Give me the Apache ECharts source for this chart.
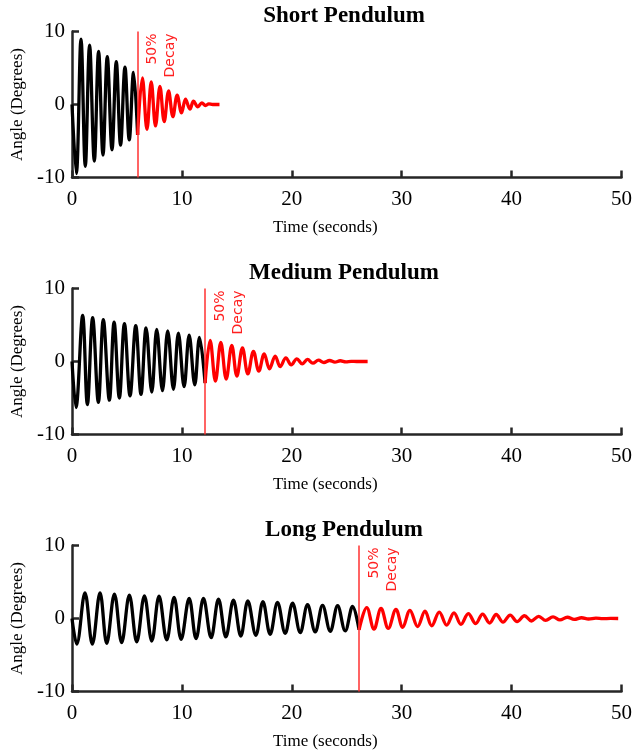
<!DOCTYPE html>
<html><head><meta charset="utf-8">
<script src="https://cdn.jsdelivr.net/npm/echarts@6/dist/echarts.min.js"></script>
<style>html,body{margin:0;padding:0;background:#fff}#c{width:641px;height:755px}</style>
</head><body><div id="c"></div>
<script>
// ---- data (peaks / troughs of each swing) ----
const panelTitles = ['Short Pendulum', 'Medium Pendulum', 'Long Pendulum'];
const xAxisTitle = 'Time (seconds)';
const yAxisTitle = 'Angle (Degrees)';
const decayLabel = '50%\nDecay';
const xTickValues = [0, 10, 20, 30, 40, 50];
const yTickValues = [-10, 0, 10];
const decayTimes = [5.97, 12.11, 26.12];

const shortBefore = [[0,0],[0.39,-9.46],[0.82,8.96],[1.21,-8.46],[1.6,8.14],[2.03,-7.74],[2.42,7.28],[2.82,-6.92],[3.21,6.56],[3.64,-6.2],[4.03,5.88],[4.42,-5.57],[4.82,5.11],[5.21,-4.84],[5.6,4.39],[5.97,-4.16]];
const shortAfter = [[5.97,-4.16],[6.4,3.66],[6.82,-3.39],[7.21,3.08],[7.6,-2.94],[8.0,2.49],[8.39,-2.35],[8.79,1.86],[9.18,-1.67],[9.57,1.27],[9.97,-1.13],[10.33,0.72],[10.73,-0.63],[11.06,0.45],[11.45,-0.32],[11.82,0.23],[12.15,-0.14],[12.45,0.08],[12.8,0],[13.42,0]];

const mediumBefore = [[0,0],[0.36,-6.3],[0.97,6.3],[1.40,-5.9],[1.88,6.0],[2.40,-5.6],[2.85,5.75],[3.40,-5.3],[3.83,5.4],[4.31,-5.0],[4.77,5.2],[5.28,-4.7],[5.80,4.9],[6.28,-4.5],[6.74,4.6],[7.26,-4.2],[7.71,4.4],[8.23,-4.0],[8.71,4.2],[9.23,-3.8],[9.68,3.9],[10.20,-3.45],[10.66,3.6],[11.17,-3.2],[11.60,3.3],[12.11,-2.95]];
const mediumAfter = [[12.11,-2.95],[12.57,2.9],[13.05,-2.7],[13.54,2.6],[14.03,-2.4],[14.54,2.2],[15.0,-2.0],[15.51,1.85],[16.0,-1.7],[16.51,1.4],[17.0,-1.33],[17.49,1.05],[17.97,-1.0],[18.49,0.75],[18.94,-0.7],[19.46,0.5],[19.95,-0.46],[20.46,0.37],[20.95,-0.32],[21.43,0.28],[21.92,-0.23],[22.43,0.18],[22.92,-0.14],[23.44,0.14],[23.92,-0.09],[24.41,0.1],[24.92,-0.05],[25.4,0.03],[25.9,0],[26.9,0]];

const longBefore = [[0,0],[0.43,-3.5],[1.18,3.5],[1.85,-3.5],[2.55,3.5],[3.16,-3.4],[3.86,3.35],[4.52,-3.3],[5.22,3.2],[5.89,-3.2],[6.59,3.1],[7.26,-3.08],[7.92,3.05],[8.62,-2.94],[9.29,2.9],[9.93,-2.85],[10.66,2.75],[11.29,-2.76],[11.96,2.75],[12.66,-2.62],[13.33,2.65],[14.0,-2.53],[14.69,2.5],[15.36,-2.4],[16.0,2.4],[16.73,-2.3],[17.37,2.3],[18.03,-2.16],[18.70,2.2],[19.40,-2.02],[20.07,2.1],[20.77,-1.93],[21.43,1.9],[22.13,-1.84],[22.80,1.8],[23.50,-1.75],[24.17,1.75],[24.86,-1.7],[25.53,1.65],[26.12,-1.55]];
const longAfter = [[26.12,-1.55],[26.82,1.5],[27.48,-1.45],[28.12,1.38],[28.78,-1.35],[29.48,1.25],[30.09,-1.22],[30.75,1.12],[31.45,-1.1],[32.12,1.0],[32.73,-1.0],[33.42,0.88],[34.09,-0.9],[34.76,0.78],[35.39,-0.8],[36.06,0.68],[36.73,-0.7],[37.36,0.6],[38.0,-0.62],[38.6,0.55],[39.22,-0.5],[39.87,0.46],[40.5,-0.42],[41.17,0.38],[41.8,-0.34],[42.47,0.3],[43.1,-0.27],[43.77,0.23],[44.4,-0.2],[45.07,0.17],[45.7,-0.13],[46.37,0.1],[47.0,-0.07],[47.67,0.05],[48.3,-0.03],[49.0,0.01],[49.7,0]];

const beforeSets = [shortBefore, mediumBefore, longBefore];
const afterSets = [shortAfter, mediumAfter, longAfter];

// ---- layout / style ----
const gridTops = [31.5, 288.5, 545.5];
const gridH = 146;
const SERIF = 'Liberation Serif';
const axisColor = '#262626';

const chart = echarts.init(document.getElementById('c'), null, {renderer: 'canvas'});
const grids = [], xAxes = [], yAxes = [], series = [], titles = [];
for (let i = 0; i < 3; i++) {
  grids.push({left: 72, right: 19.5, top: gridTops[i], height: gridH, containLabel: false});
  titles.push({text: panelTitles[i], left: 339, top: gridTops[i] - 32, textAlign: 'center',
    textStyle: {fontFamily: SERIF, fontWeight: 'bold', fontSize: 23, color: '#000'}});
  xAxes.push({type: 'value', gridIndex: i, min: xTickValues[0], max: xTickValues[xTickValues.length-1],
    interval: xTickValues[1] - xTickValues[0],
    name: xAxisTitle, nameLocation: 'middle', nameGap: 42,
    nameTextStyle: {fontFamily: SERIF, fontSize: 17, color: '#000', padding: [0, 43, 0, 0]},
    axisLine: {show: true, onZero: false, lineStyle: {color: axisColor, width: 2.5}},
    axisTick: {show: true, inside: true, length: 7, lineStyle: {color: axisColor, width: 2.5}},
    axisLabel: {fontFamily: SERIF, fontSize: 21, color: '#000', margin: 11},
    splitLine: {show: false}});
  yAxes.push({type: 'value', gridIndex: i, min: yTickValues[0], max: yTickValues[yTickValues.length-1],
    interval: yTickValues[1] - yTickValues[0],
    name: yAxisTitle, nameLocation: 'middle', nameGap: 34, nameRotate: 90,
    nameTextStyle: {fontFamily: SERIF, fontSize: 17, color: '#000'},
    axisLine: {show: true, onZero: false, lineStyle: {color: axisColor, width: 2.5}},
    axisTick: {show: true, inside: true, length: 7, lineStyle: {color: axisColor, width: 2.5}},
    axisLabel: {fontFamily: SERIF, fontSize: 21, color: '#000', margin: 7},
    splitLine: {show: false}});
  series.push({type: 'line', xAxisIndex: i, yAxisIndex: i, data: beforeSets[i], smooth: 0.37,
    showSymbol: false, symbol: 'none', lineStyle: {color: '#000', width: 3.3}, z: 3, silent: true});
  series.push({type: 'line', xAxisIndex: i, yAxisIndex: i, data: afterSets[i], smooth: 0.37,
    showSymbol: false, symbol: 'none', lineStyle: {color: '#ff0000', width: 3.3}, z: 3, silent: true,
    markLine: {silent: true, symbol: ['none', 'none'], animation: false,
      lineStyle: {color: '#ff3030', width: 1.5, type: 'solid'},
      label: {show: true, formatter: decayLabel, position: 'insideEndBottom', color: '#ff2020',
        fontFamily: 'DejaVu Sans', fontSize: 14, lineHeight: 18, distance: [2, 6]},
      emphasis: {disabled: true},
      data: [{xAxis: decayTimes[i]}]}});
}
chart.setOption({animation: false, backgroundColor: '#fff', title: titles, grid: grids,
  xAxis: xAxes, yAxis: yAxes, series: series});
</script></body></html>
